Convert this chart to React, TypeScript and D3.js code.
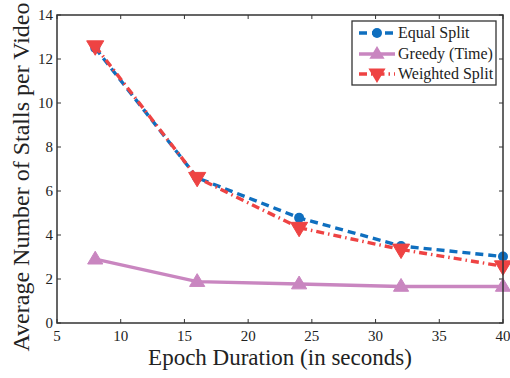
import React from "react";
import * as d3 from "d3";

const epochs = [8, 16, 24, 32, 40];
const equalSplit = [12.5, 6.6, 4.78, 3.5, 3.02];
const greedyTime = [2.9, 1.88, 1.77, 1.66, 1.66];
const weightedSplit = [12.58, 6.6, 4.33, 3.34, 2.58];
const xTicks = [5, 10, 15, 20, 25, 30, 35, 40];
const yTicks = [0, 2, 4, 6, 8, 10, 12, 14];
const seriesNames = ["Equal Split", "Greedy (Time)", "Weighted Split"];

const W = 510, H = 378;
const L = 57, R = 503, T = 15, B = 323;
const BLUE = "#0f6fbf";
const PINK = "#c986c0";
const RED = "#ee4343";
const AX = "#333";
const FONT = "Liberation Serif";

export default function App() {
  const x = d3.scaleLinear().domain([5, 40]).range([L, R]);
  const y = d3.scaleLinear().domain([0, 14]).range([B, T]);
  const line = d3.line<number>().x((_, i) => x(epochs[i])).y((d) => y(d));

  const triUp = (cx: number, cy: number, s: number) =>
    `M${cx},${cy - s}L${cx + s * 0.95},${cy + s * 0.6}L${cx - s * 0.95},${cy + s * 0.6}Z`;
  const triDown = (cx: number, cy: number, s: number) =>
    `M${cx},${cy + s}L${cx + s * 0.95},${cy - s * 0.6}L${cx - s * 0.95},${cy - s * 0.6}Z`;

  const legX = 352, legY = 21, legW = 144, legH = 64;
  const rows = [33, 54, 74];

  return (
    <svg width={W} height={H} style={{ position: "absolute", left: 0, top: 0, background: "#fff" }}>
      <rect x={0} y={0} width={W} height={H} fill="#fff" />
      {xTicks.map((t) => (
        <g key={"x" + t}>
          <line x1={x(t)} x2={x(t)} y1={B} y2={B - 4} stroke={AX} strokeWidth={1} />
          <line x1={x(t)} x2={x(t)} y1={T} y2={T + 4} stroke={AX} strokeWidth={1} />
          <text x={x(t)} y={B + 18} textAnchor="middle" fontFamily={FONT} fontSize={15} fill="#222">{t}</text>
        </g>
      ))}
      {yTicks.map((t) => (
        <g key={"y" + t}>
          <line x1={L} x2={L + 4} y1={y(t)} y2={y(t)} stroke={AX} strokeWidth={1} />
          <line x1={R} x2={R - 4} y1={y(t)} y2={y(t)} stroke={AX} strokeWidth={1} />
          <text x={L - 4} y={y(t) + 5} textAnchor="end" fontFamily={FONT} fontSize={15} fill="#222">{t}</text>
        </g>
      ))}
      <path d={line(greedyTime) || ""} fill="none" stroke={PINK} strokeWidth={3.4} />
      {greedyTime.map((v, i) => (
        <path key={"g" + i} d={triUp(x(epochs[i]), y(v), 8)} fill={PINK} stroke={PINK} strokeWidth={1} />
      ))}
      <path d={line(equalSplit) || ""} fill="none" stroke={BLUE} strokeWidth={3.4} strokeDasharray="8,5" />
      {equalSplit.map((v, i) => (
        <circle key={"e" + i} cx={x(epochs[i])} cy={y(v)} r={5} fill={BLUE} />
      ))}
      <path d={line(weightedSplit) || ""} fill="none" stroke={RED} strokeWidth={3.4} strokeDasharray="8,4,1.5,4" />
      {weightedSplit.map((v, i) => (
        <path key={"w" + i} d={triDown(x(epochs[i]), y(v), 9)} fill={RED} stroke={RED} strokeWidth={1} />
      ))}
      <rect x={L} y={T} width={R - L} height={B - T} fill="none" stroke={AX} strokeWidth={1.5} />
      <rect x={legX} y={legY} width={legW} height={legH} fill="#fff" stroke={AX} strokeWidth={1.3} />
      <line x1={359} x2={395} y1={rows[0]} y2={rows[0]} stroke={BLUE} strokeWidth={3.4} strokeDasharray="8,5" />
      <circle cx={377} cy={rows[0]} r={5} fill={BLUE} />
      <line x1={359} x2={395} y1={rows[1]} y2={rows[1]} stroke={PINK} strokeWidth={3.4} />
      <path d={triUp(377, rows[1], 8)} fill={PINK} />
      <line x1={359} x2={395} y1={rows[2]} y2={rows[2]} stroke={RED} strokeWidth={3.4} strokeDasharray="8,4,1.5,4" />
      <path d={triDown(377, rows[2], 9)} fill={RED} />
      {seriesNames.map((n, i) => (
        <text key={n} x={398} y={rows[i] + 5} fontFamily={FONT} fontSize={16} fill="#222">{n}</text>
      ))}
      <text x={(L + R) / 2 + 0} y={365} textAnchor="middle" fontFamily={FONT} fontSize={23} fill="#222">Epoch Duration (in seconds)</text>
      <text transform={`translate(29,177) rotate(-90)`} textAnchor="middle" fontFamily={FONT} fontSize={24} fill="#222">Average Number of Stalls per Video</text>
    </svg>
  );
}
